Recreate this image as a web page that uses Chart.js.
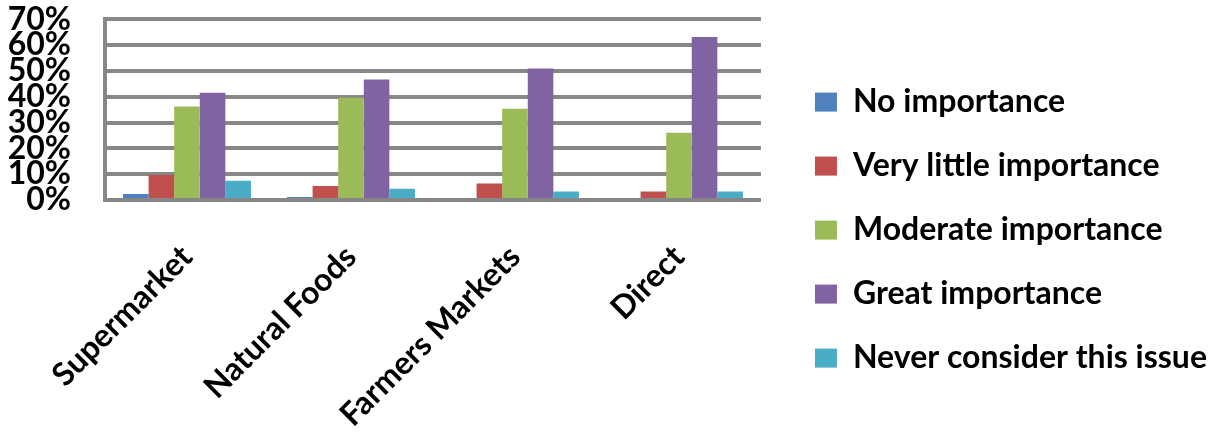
<!DOCTYPE html>
<html>
<head>
<meta charset="utf-8">
<script src="https://cdn.jsdelivr.net/npm/chart.js@4"></script>
<style>
  html, body { margin: 0; padding: 0; background: #fff; }
  #wrap { width: 1221px; height: 432px; }
</style>
</head>
<body>
<div id="wrap"><canvas id="importanceChart" width="1221" height="432"></canvas></div>
<script>
// Importance of the issue, by where people shop (% of respondents)
const categories = ['Supermarket', 'Natural Foods', 'Farmers Markets', 'Direct'];

const noImportance       = [2.3, 1.2, 0, 0];
const veryLittle         = [9.7, 5.4, 6.4, 3.3];
const moderate           = [36.2, 39.6, 35.3, 26.0];
const great              = [41.5, 46.7, 50.9, 63.1];
const neverConsider      = [7.5, 4.4, 3.3, 3.3];

const yTicks = [0, 10, 20, 30, 40, 50, 60, 70];

const GRID = '#878787';
const FONT = { family: 'Lato', weight: 'bold', size: 32 };

function makeDataset(label, data, color) {
    return {
        label: label,
        data: data,
        backgroundColor: color,
        borderWidth: 0,
        categoryPercentage: 0.78,
        barPercentage: 1.0
    };
}

// Chart.js caps a side legend at half the width / number of side boxes,
// which cuts the long labels here - let the legend take its natural width
const wideLegend = {
    id: 'wideLegend',
    afterInit(chart) {
        const legend = chart.legend;
        if (!legend) return;
        const update = legend.update.bind(legend);
        legend.update = (maxWidth, maxHeight, margins) => update(Math.max(maxWidth, 600), maxHeight, margins);
    }
};

const ctx = document.getElementById('importanceChart').getContext('2d');

new Chart(ctx, {
    type: 'bar',
    data: {
        labels: categories,
        datasets: [
            makeDataset('No importance', noImportance, '#4F81BD'),
            makeDataset('Very little importance', veryLittle, '#C0504D'),
            makeDataset('Moderate importance', moderate, '#9BBB59'),
            makeDataset('Great importance', great, '#8064A2'),
            makeDataset('Never consider this issue', neverConsider, '#4BACC6')
        ]
    },
    plugins: [wideLegend],
    options: {
        responsive: false,
        animation: false,
        layout: { padding: { top: 0, right: 4, bottom: 0, left: 0 } },
        plugins: {
            tooltip: { enabled: false },
            legend: {
                position: 'right',
                align: 'center',
                title: { display: true, text: ' ', font: { size: 1 }, padding: { top: 27, bottom: 0 } },
                labels: {
                    color: '#000',
                    font: FONT,
                    boxWidth: 22,
                    boxHeight: 19,
                    padding: 32
                }
            }
        },
        scales: {
            x: {
                grid: { display: false },
                border: { display: true, color: GRID, width: 4 },
                ticks: {
                    color: '#000',
                    font: FONT,
                    minRotation: 45,
                    maxRotation: 45,
                    autoSkip: false,
                    padding: 30
                },
                afterFit: scale => { scale.height = 232; }
            },
            y: {
                min: 0,
                max: 70,
                afterBuildTicks: scale => { scale.ticks = yTicks.map(v => ({ value: v })); },
                // invisible tick marks give the gap between labels and axis
                grid: { color: GRID, lineWidth: 4, drawTicks: true, tickLength: 34, tickColor: 'rgba(0,0,0,0)' },
                border: { display: true, color: GRID, width: 4 },
                ticks: {
                    color: '#000',
                    font: FONT,
                    autoSkip: false,
                    padding: 0,
                    callback: v => v + '%'
                },
                afterFit: scale => { scale.width = 105; }
            },
            // empty axis on the right, only to leave a gap before the legend
            gap: {
                position: 'right',
                display: true,
                grid: { display: false },
                border: { display: false },
                ticks: { display: false },
                afterFit: scale => { scale.width = 22; }
            }
        }
    }
});
</script>
</body>
</html>
